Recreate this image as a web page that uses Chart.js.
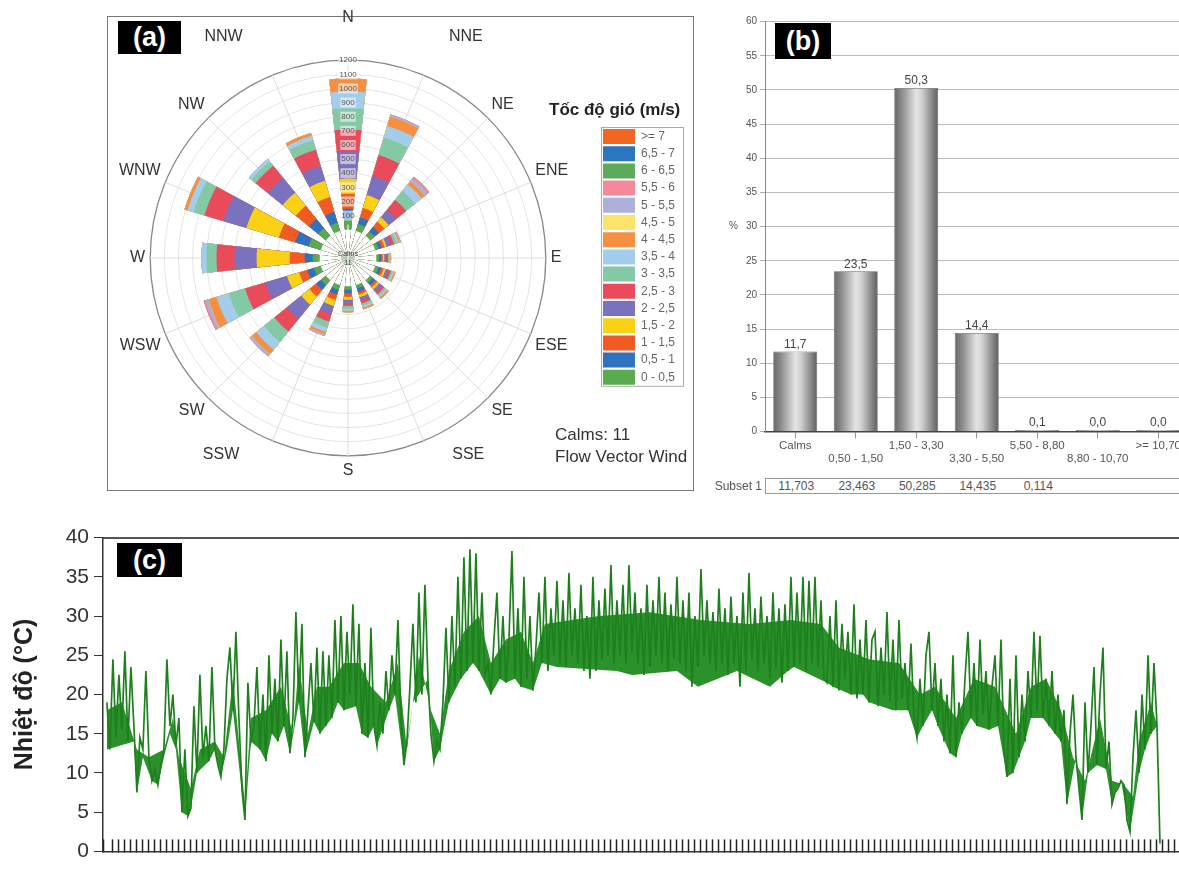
<!DOCTYPE html>
<html>
<head>
<meta charset="utf-8">
<title>Gio va nhiet do</title>
<script src="https://cdn.jsdelivr.net/npm/chart.js@4.4.1/dist/chart.umd.min.js"></script>
<style>
  body { margin: 0; background: #fff; font-family: "Liberation Sans", Arial, sans-serif; }
  #page { position: relative; width: 1179px; height: 869px; overflow: hidden; }
  .abs { position: absolute; }
  .tag { position: absolute; background: #000; color: #fff; font-weight: bold; text-align: center; }
  #tblBox { position: absolute; left: 765px; top: 478px; width: 430px; height: 14px; border: 1px solid #999; display: flex; }
  #tblBox div { width: 60.5px; text-align: center; font-size: 12px; line-height: 14px; color: #555; }
</style>
</head>
<body>
<div id="page">
  <!-- (a) wind rose -->
  <div class="abs" style="left:107px;top:16px;width:585px;height:473px;border:1.5px solid #777"></div>
  <div class="abs" style="left:86px;top:-5px;width:617px;height:500px"><canvas id="rose"></canvas></div>
  <div class="tag" style="left:118px;top:21px;width:63px;height:33px;line-height:33px;font-size:27px">(a)</div>
  <div class="abs" style="left:549px;top:99px;font-size:17px;line-height:22px;font-weight:bold;color:#222">Tốc độ gió (m/s)</div>
  <div class="abs" style="left:555px;top:424px;font-size:17px;line-height:22px;color:#333">Calms: 11<br>Flow Vector Wind</div>

  <!-- (b) frequency bars -->
  <div class="abs" style="left:712px;top:10px;width:480px;height:462px"><canvas id="bars"></canvas></div>
  <div class="tag" style="left:775px;top:23px;width:56px;height:36px;line-height:36px;font-size:27px">(b)</div>
  <div class="abs" style="left:729px;top:220px;font-size:10px;color:#555">%</div>
  <div class="abs" style="left:712px;top:478px;width:50px;text-align:right;font-size:12px;line-height:16px;color:#555">Subset 1</div>
  <div id="tblBox"></div>

  <!-- (c) temperature -->
  <div class="abs" style="left:0;top:520px;width:1200px;height:349px"><canvas id="temp"></canvas></div>
  <div class="tag" style="left:117px;top:543px;width:65px;height:34px;line-height:34px;font-size:27px">(c)</div>
</div>

<script>
Chart.defaults.font.family = '"Liberation Sans", Arial, sans-serif';

// ---------- (a) wind rose ----------
const dirLabels = ['N','NNE','NE','ENE','E','ESE','SE','SSE','S','SSW','SW','WSW','W','WNW','NW','NNW'];
const speedBins = ['0 - 0,5','0,5 - 1','1 - 1,5','1,5 - 2','2 - 2,5','2,5 - 3','3 - 3,5','3,5 - 4','4 - 4,5','4,5 - 5','5 - 5,5','5,5 - 6','6 - 6,5','6,5 - 7','>= 7'];
const binColors = ['#5aab4f','#2f73bf','#f15a22','#fbd116','#7a71bf','#e94b5b','#84c9a6','#a3cdeb','#f59042','#fde36a','#aeb0dc','#f4899b','#5daa5d','#2c75bf','#f26622'];
// counts per direction (N .. NNW) for each speed class
const s0   = [71, 50, 40, 25, 20, 25, 25, 25, 25, 35, 45, 50, 50, 90, 70, 60];
const s1   = [78, 50, 40, 25, 15, 20, 22, 25, 25, 35, 45, 50, 57, 100, 85, 80];
const s2   = [106, 70, 50, 20, 12, 18, 20, 20, 25, 40, 60, 60, 106, 120, 120, 110];
const s3   = [107, 95, 40, 15, 10, 15, 18, 20, 20, 45, 75, 90, 234, 240, 120, 120];
const s4   = [191, 140, 70, 30, 15, 20, 25, 25, 25, 60, 130, 160, 156, 170, 135, 110];
const s5   = [156, 155, 90, 25, 12, 18, 20, 20, 20, 55, 115, 150, 128, 140, 110, 120];
const s6   = [149, 130, 80, 20, 10, 14, 15, 18, 20, 45, 95, 120, 71, 80, 40, 70];
const s7   = [121, 85, 60, 15, 6, 10, 12, 14, 13, 30, 70, 90, 35, 45, 22, 33];
const s8   = [92, 70, 30, 10, 5, 10, 13, 13, 12, 20, 40, 60, 0, 22, 0, 20];
const s9   = [0, 0, 0, 0, 0, 0, 0, 0, 0, 0, 0, 0, 0, 0, 0, 0];
const s10  = [0, 15, 25, 5, 0, 0, 0, 0, 0, 11, 20, 20, 0, 0, 0, 0];
const s11  = [0, 0, 15, 0, 0, 0, 0, 0, 0, 0, 0, 15, 0, 0, 0, 0];
const s12  = [0, 0, 0, 0, 0, 0, 0, 0, 0, 0, 0, 0, 0, 0, 0, 0];
const s13  = [0, 0, 0, 0, 0, 0, 0, 0, 0, 0, 0, 0, 0, 0, 0, 0];
const s14  = [0, 0, 0, 0, 0, 0, 0, 0, 0, 0, 0, 0, 0, 0, 0, 0];
const binCounts = [s0, s1, s2, s3, s4, s5, s6, s7, s8, s9, s10, s11, s12, s13, s14];
const calms = 11;

const RMIN = -200, RMAX = 1200;
const PETAL = 12, GAP = 10.5;   // degrees

// 16 directions -> 33 arcs: N split in two halves around 0deg, gaps between petals
function spread(vals) {
  const out = [vals[0]];
  for (let k = 1; k < 16; k++) out.push(RMIN, vals[k]);
  out.push(RMIN, vals[0]);
  return out;
}
function arcAngle(c) {
  const i = c.dataIndex;
  if (i === 0 || i === 32) return PETAL / 2;
  return i % 2 ? GAP : PETAL;
}

const roseSets = [{ data: spread(new Array(16).fill(0)), backgroundColor: '#fff', borderWidth: 0, angle: arcAngle }];
let running = new Array(16).fill(0);
binCounts.forEach((bin, j) => {
  running = running.map((v, d) => v + bin[d]);
  roseSets.push({ label: speedBins[j], data: spread(running), backgroundColor: binColors[j], borderWidth: 0, angle: arcAngle });
});

// the near-north / near-south names sit a little further round in the original
const labelNudge = { 1: ['   ', ''], 7: ['      ', ''], 9: ['', '       '], 15: ['', '    '] };

const calmLabel = {
  id: 'calmLabel',
  afterDraw(chart) {
    const r = chart.scales.r, ctx = chart.ctx;
    ctx.save();
    ctx.fillStyle = '#444';
    ctx.font = '7px "Liberation Sans", Arial';
    ctx.textAlign = 'center';
    ctx.textBaseline = 'middle';
    ctx.fillText('Calms', r.xCenter, r.yCenter - 4);
    ctx.fillText(String(calms), r.xCenter, r.yCenter + 5);
    ctx.restore();
  }
};
const legendFrame = {
  id: 'legendFrame',
  afterDraw(chart) {
    const hb = chart.legend && chart.legend.legendHitBoxes;
    if (!hb || !hb.length) return;
    const first = hb[0], last = hb[hb.length - 1], ctx = chart.ctx;
    ctx.save();
    ctx.strokeStyle = '#aaa';
    ctx.lineWidth = 1;
    ctx.strokeRect(first.left - 1.5, first.top - 1.5, 82, last.top + last.height - first.top + 3);
    ctx.restore();
  }
};

new Chart(document.getElementById('rose'), {
  type: 'polarArea',
  data: { labels: dirLabels, datasets: roseSets },
  options: {
    responsive: true,
    maintainAspectRatio: false,
    animation: false,
    events: [],
    layout: { padding: { top: 0, bottom: 0, left: 0, right: 18 } },
    plugins: {
      tooltip: { enabled: false },
      legend: {
        position: 'right',
        align: 'start',
        onClick: () => {},
        // heading is placed as page text; this only reserves the space above the boxes
        title: { display: true, text: ' ', font: { size: 17 }, padding: { top: 105, bottom: 6.4 } },
        labels: {
          boxWidth: 32, boxHeight: 15, padding: 2.2, color: '#333', font: { size: 12 },
          generateLabels: () => speedBins.map((t, j) => ({
            text: t, fillStyle: binColors[j], strokeStyle: binColors[j], lineWidth: 0, hidden: false, index: j
          })).reverse()
        }
      }
    },
    scales: {
      r: {
        min: RMIN, max: RMAX, startAngle: 0,
        ticks: {
          stepSize: 100, z: 1, color: '#555', font: { size: 8 },
          backdropColor: 'rgba(255,255,255,0.55)', backdropPadding: 1,
          callback: v => v > 0 ? v : ''
        },
        grid: { circular: true, color: c => (c.tick && c.tick.value === RMAX) ? '#888' : '#e4e4e4',
                lineWidth: c => (c.tick && c.tick.value === RMAX) ? 1.3 : 1 },
        angleLines: { display: true, color: '#dcdcdc' },
        pointLabels: {
          display: true, color: '#333', font: { size: 16 },
          padding: c => c.index === 0 ? 28 : ((c.index === 1 || c.index === 15) ? 26 : 0),
          callback: (label, i) => labelNudge[i] ? labelNudge[i][0] + label + labelNudge[i][1] : label
        }
      }
    }
  },
  plugins: [calmLabel, legendFrame]
});

// ---------- (b) frequency distribution ----------
const barCats = ['Calms', '0,50 - 1,50', '1,50 - 3,30', '3,30 - 5,50', '5,50 - 8,80', '8,80 - 10,70', '>= 10,70'];
const pctValues = [11.703, 23.463, 50.285, 14.435, 0.114, 0, 0];
const BAR_PCT = 0.727;

const comma = (v, d) => v.toFixed(d).replace('.', ',');

function barFill(c) {
  const chart = c.chart, xs = chart.scales.x;
  if (!xs || !chart.chartArea || c.dataIndex === undefined) return '#999';
  const cx = xs.getPixelForValue(c.dataIndex);
  const half = xs.width / barCats.length * BAR_PCT / 2;
  const g = chart.ctx.createLinearGradient(cx - half, 0, cx + half, 0);
  g.addColorStop(0, '#666');
  g.addColorStop(0.18, '#8e8e8e');
  g.addColorStop(0.5, '#e4e4e4');
  g.addColorStop(0.62, '#d2d2d2');
  g.addColorStop(0.88, '#828282');
  g.addColorStop(1, '#5c5c5c');
  return g;
}

const barValues = {
  id: 'barValues',
  afterDatasetsDraw(chart) {
    const ctx = chart.ctx;
    ctx.save();
    ctx.fillStyle = '#444';
    ctx.font = '12px "Liberation Sans", Arial';
    ctx.textAlign = 'center';
    ctx.textBaseline = 'bottom';
    chart.getDatasetMeta(0).data.forEach((bar, i) => {
      ctx.fillText(comma(pctValues[i], 1), bar.x, bar.y - 1);
    });
    ctx.restore();
  }
};

new Chart(document.getElementById('bars'), {
  type: 'bar',
  data: {
    labels: barCats.map((c, i) => i % 2 ? ['', c] : c),
    datasets: [{
      data: pctValues, backgroundColor: barFill, borderColor: '#666', borderWidth: 0.8,
      categoryPercentage: 1, barPercentage: BAR_PCT, minBarLength: 1.5
    }]
  },
  options: {
    responsive: true,
    maintainAspectRatio: false,
    animation: false,
    events: [],
    layout: { padding: { top: 11.7, right: 3.5, left: 0, bottom: 0 } },
    plugins: { legend: { display: false }, tooltip: { enabled: false } },
    scales: {
      x: {
        grid: { drawOnChartArea: false, offset: false, tickLength: 7, tickColor: '#999' },
        border: { color: '#444', width: 1.5 },
        ticks: { autoSkip: false, maxRotation: 0, color: '#555', padding: 1, font: { size: 11.5, lineHeight: 1.1 } },
        afterFit: s => { s.height = 40.5; }
      },
      y: {
        min: 0, max: 60,
        ticks: { stepSize: 5, color: '#555', font: { size: 10 }, padding: 3 },
        grid: { color: '#bcbcbc', tickLength: 5, tickColor: '#aaa' },
        border: { color: '#888' },
        afterFit: s => { s.width = 53; }
      }
    }
  },
  plugins: [barValues]
});

const tblBox = document.getElementById('tblBox');
pctValues.forEach(v => {
  const cell = document.createElement('div');
  cell.textContent = v > 0 ? comma(v, 3) : '';
  tblBox.appendChild(cell);
});

// ---------- (c) temperature ----------
const tempValues = [
  19, 13, 24.5, 14.5, 22.5, 15.5, 25.5, 14, 23.5, 16,
  7.5, 14.5, 13, 23,
  12, 9, 10.5, 8.5, 11, 13,
  24.5, 16, 20, 13.5,
  17, 5, 13, 4.5, 5.5, 18.5,
  10, 22.5, 12, 16, 11.5,
  23.5, 13, 11, 9.5, 13,
  22, 26, 18, 28,
  17, 8, 4,
  21.5, 14, 16,
  23.5, 13, 20, 11.5, 25, 15, 22,
  14, 27, 16, 25.5,
  12.5, 17,
  30.5, 19, 29,
  12, 18,
  24, 16.5, 26, 15, 25.5,
  16, 25, 17,
  29.5, 19, 30, 18, 28, 20, 31.5, 18.5,
  29, 15, 24, 14.5, 28.5, 16,
  13.5, 19, 15, 23, 18, 25, 20, 29.5,
  17, 11, 14,
  21, 29, 19, 33, 20, 34, 22,
  15, 11.5, 14,
  13, 19,
  28.5, 19, 30, 21, 35, 22, 37.5, 23, 38.5, 24,
  38, 23, 33, 22.5,
  24, 20, 27,
  33, 22, 30, 21.5, 27,
  38.3, 22,
  31, 21, 35, 22, 30,
  20.5, 26,
  33, 24, 35, 23, 31, 25, 34.5, 24, 32, 23.5, 35.5, 25, 31, 24, 34, 23, 30, 22, 35, 23,
  32, 24.5, 33.5, 25, 36.5, 24, 32, 25, 34, 24, 36.5, 25.5, 33, 24, 31, 22.5, 34, 23.5, 32, 25,
  35, 24, 33, 23, 31.5, 24.5, 35, 24, 32, 23, 33, 21, 30, 23.5, 36, 25, 32, 24, 30.5, 23,
  33.5, 24, 31, 22.5, 32.5, 24, 30, 21, 33, 23, 35.5, 24.5, 31, 23, 32.5, 24, 30, 22, 33, 23.5,
  31, 21.5, 31.5, 23,
  35, 23.5, 33, 24, 35, 23, 34.5, 24, 35, 23.5, 32, 22, 21.5,
  30, 21, 32, 20.5, 29, 22, 28, 20, 31.5, 19.5, 27, 20,
  29.5, 19, 27, 28, 18.5, 26, 20, 30.5, 19, 27, 18, 29.5, 19.5, 24, 18,
  26.5, 17, 14.5, 22, 16, 25, 28, 18,
  24, 16, 22, 14, 20, 12.5, 25, 12, 19, 15,
  22, 28, 17, 24, 16, 27, 17.5, 23, 15.5, 21,
  25, 16, 27, 13, 9.5, 22, 10, 25, 12, 20, 14, 23,
  17, 28, 18, 27.5, 17, 22,
  16, 23, 15, 20, 14, 18,
  6, 15, 20, 12,
  8, 4, 19, 10,
  16, 23.5, 11, 20, 26, 10.5,
  14, 6, 7.5,
  8, 9, 8.5,
  4, 2.5, 12, 18,
  10, 20, 13, 25, 15, 24,
  16, 1
];
// lower edge of the daily swing, as sample index / value
const floorIdx = [0, 9, 10, 12, 15, 17, 19, 21, 23, 25, 27, 28, 30, 34, 36, 38, 40, 42, 46, 48, 51, 53, 55, 57, 59, 61,
  64, 66, 69, 71, 73, 75, 77, 79, 83, 85, 87, 89, 90, 94, 96, 99, 102, 104, 107, 109, 111, 114, 118, 122, 124, 128,
  131, 133, 136, 138, 142, 145, 150, 170, 175, 190, 197, 210, 221, 227, 229, 240, 242, 248, 252, 254, 262, 267, 270,
  272, 275, 277, 281, 283, 285, 288, 290, 294, 297, 300, 302, 304, 306, 308, 312, 314, 318, 320, 323, 325, 327, 330,
  333, 335, 336, 338, 341, 344, 346, 348, 350, 351];
const floorVals = [13, 14, 7.5, 12, 9, 8.5, 12, 15, 13, 5, 4.5, 5.5, 10, 11.5, 13, 9.5, 13, 18, 4, 14, 13, 11.5, 15, 14, 16, 12.5,
  19, 12, 16.5, 15, 16, 17, 19, 18, 18.5, 15, 14.5, 16, 13.5, 18, 20, 11, 19, 20, 22, 11.5, 13, 19, 22, 24, 23, 20,
  22, 21.5, 22, 21, 20.5, 24, 23.5, 23, 22.5, 23, 21, 23, 21, 23, 23.5, 21.5, 21, 20, 20, 19, 18, 18, 14.5,
  16, 18, 16, 12.5, 12, 15, 17, 16, 15.5, 16, 9.5, 10, 12, 14, 17, 17, 16, 14, 6, 12, 4, 10, 11,
  10.5, 6, 7.5, 9, 2.5, 10, 13, 15, 16, 1];
// top of the solid-looking core of the band, as sample index / value
const coreIdx = [0, 5, 10, 14, 19, 22, 24, 28, 31, 36, 39, 42, 44, 46, 48, 53, 58, 62, 64, 67, 70, 74, 79, 84, 88, 93,
  97, 100, 104, 108, 111, 114, 119, 124, 128, 133, 138, 142, 146, 164, 181, 198, 214, 228, 238, 244, 254, 264, 271,
  276, 283, 289, 296, 303, 308, 313, 318, 322, 326, 331, 335, 339, 342, 344, 348, 350, 351];
const coreVals = [18, 19, 13, 12, 13, 17, 12, 8, 13, 14, 12, 22, 14, 6, 17, 18, 21, 15, 24, 15, 21, 21, 24, 24, 21, 19,
  24, 13, 25, 18, 15, 23, 28, 30, 24, 27, 28, 24, 29, 30, 30.5, 29.5, 29, 29.5, 29, 26, 24.5, 24, 20,
  21, 17, 22, 21, 15, 21, 22, 18, 12, 9, 17, 9, 8.5, 7, 14, 19, 16, 1];
const X_MIN = -1.3, X_MAX = 362;

new Chart(document.getElementById('temp'), {
  type: 'line',
  data: {
    datasets: [
      {
        data: tempValues.map((v, i) => ({ x: i, y: v })),
        borderColor: '#1d801d', borderWidth: 1.7, pointRadius: 0, tension: 0, fill: false
      },
      {
        data: coreIdx.map((x, i) => ({ x: x, y: coreVals[i] })),
        borderWidth: 0, borderColor: 'rgba(0,0,0,0)', pointRadius: 0, tension: 0,
        backgroundColor: '#2b912b', fill: { target: 2 }
      },
      {
        data: floorIdx.map((x, i) => ({ x: x, y: floorVals[i] })),
        borderWidth: 0, borderColor: 'rgba(0,0,0,0)', pointRadius: 0, tension: 0, fill: false
      }
    ]
  },
  options: {
    responsive: true,
    maintainAspectRatio: false,
    animation: false,
    events: [],
    layout: { padding: { top: 13, right: 7, left: 0, bottom: 0 } },
    plugins: { legend: { display: false }, tooltip: { enabled: false } },
    scales: {
      x: {
        type: 'linear', min: X_MIN, max: X_MAX,
        ticks: { display: false, stepSize: 2, autoSkip: false },
        grid: { drawOnChartArea: false, tickLength: -12, tickColor: '#222', tickWidth: 1.5 },
        border: { color: '#333', width: 1.5 },
        afterFit: s => { s.height = 6; }
      },
      x2: {
        type: 'linear', position: 'top', min: X_MIN, max: X_MAX,
        ticks: { display: false },
        grid: { display: false },
        border: { color: '#555', width: 2 },
        afterFit: s => { s.height = 0; }
      },
      y: {
        min: 0, max: 40,
        ticks: { stepSize: 2.5, callback: v => v % 5 === 0 ? v : '', color: '#333', font: { size: 21 }, padding: 5 },
        grid: { drawOnChartArea: false, tickLength: 9, color: '#333' },
        border: { color: '#333', width: 1.5 },
        title: { display: true, text: 'Nhiệt độ (°C)', color: '#222', font: { size: 25, weight: 'bold' }, padding: { top: 10, bottom: 0 } },
        afterFit: s => { s.width = 103; }
      }
    }
  }
});
</script>
</body>
</html>
